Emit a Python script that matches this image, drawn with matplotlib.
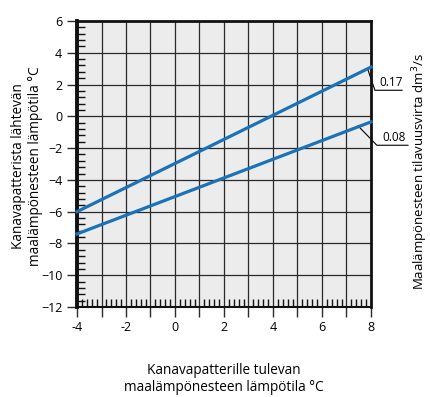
import numpy as np
import matplotlib.pyplot as plt

plt.rcParams['font.family'] = ['Open Sans', 'DejaVu Sans']

# data
x_pts = [-4, 8]
y_017 = [-6.0, 3.1]
y_008 = [-7.4, -0.35]
virtaus = ['0.17', '0.08']

fig = plt.figure(figsize=(4.30, 3.97), dpi=100)
ax = fig.add_axes([77/430, 1-307/397, 294/430, 286/397])
ax.set_facecolor('#ececec')
ax.set_xlim(-4, 8)
ax.set_ylim(-12, 6)

# ruudukko
for xv in range(-3, 8):
    ax.axvline(xv, color='#2a2a2a', lw=0.9, zorder=1)
for yv in range(-10, 6, 2):
    ax.axhline(yv, color='#2a2a2a', lw=0.9, zorder=1)

ax.plot(x_pts, y_017, color='#1a72b8', lw=2.3, zorder=3, clip_on=False)
ax.plot(x_pts, y_008, color='#1a72b8', lw=2.3, zorder=3, clip_on=False)

ax.set_xticks(range(-4, 9, 1))
ax.set_xticklabels(['-4', '', '-2', '', '0', '', '2', '', '4', '', '6', '', '8'])
ax.set_yticks(range(-12, 7, 2))
ax.tick_params(axis='both', which='major', direction='out', length=7, width=1,
               labelsize=9, color='#2a2a2a')
ax.tick_params(axis='x', pad=3)

# pienet viivat akseleilla
xm = [v for v in np.arange(-4, 8.01, 0.2) if abs(v - round(v)) > 1e-6]
ax.set_xticks(xm, minor=True)
ym = [v for v in np.arange(-12, 6.01, 0.4) if abs(v/2 - round(v/2)) > 1e-6]
ax.set_yticks(ym, minor=True)
ax.tick_params(axis='both', which='minor', direction='in', length=6, width=1,
               color='#111111')

ax.spines['left'].set_linewidth(2.8)
ax.spines['bottom'].set_linewidth(1.5)
ax.spines['top'].set_linewidth(2)
ax.spines['right'].set_linewidth(2)
for s in ax.spines.values():
    s.set_color('#111111')

# merkinnät
ax.plot([7.87, 8.16, 9.27], [2.95, 1.64, 1.64], color='black', lw=0.8, clip_on=False)
ax.text(8.33, 1.75, virtaus[0], fontsize=8.5, ha='left', va='bottom')
ax.plot([7.47, 8.24, 9.51], [-0.6, -1.82, -1.82], color='black', lw=0.8, clip_on=False)
ax.text(8.45, -1.72, virtaus[1], fontsize=8.5, ha='left', va='bottom')

fig.text(27/430, 1-166/397, 'Kanavapatterista lähtevän\nmaalämpönesteen lämpötila °C',
         rotation=90, fontsize=9.8, ha='center', va='center', linespacing=1.15)
fig.text(224/430, 1-379/397, 'Kanavapatterille tulevan\nmaalämpönesteen lämpötila °C',
         fontsize=9.8, ha='center', va='center', linespacing=1.15)
fig.text(420/430, 1-172/397, 'Maalämpönesteen tilavuusvirta dm$^3$/s',
         rotation=90, fontsize=9.5, ha='center', va='center')

fig.savefig('out.png', dpi=100)
